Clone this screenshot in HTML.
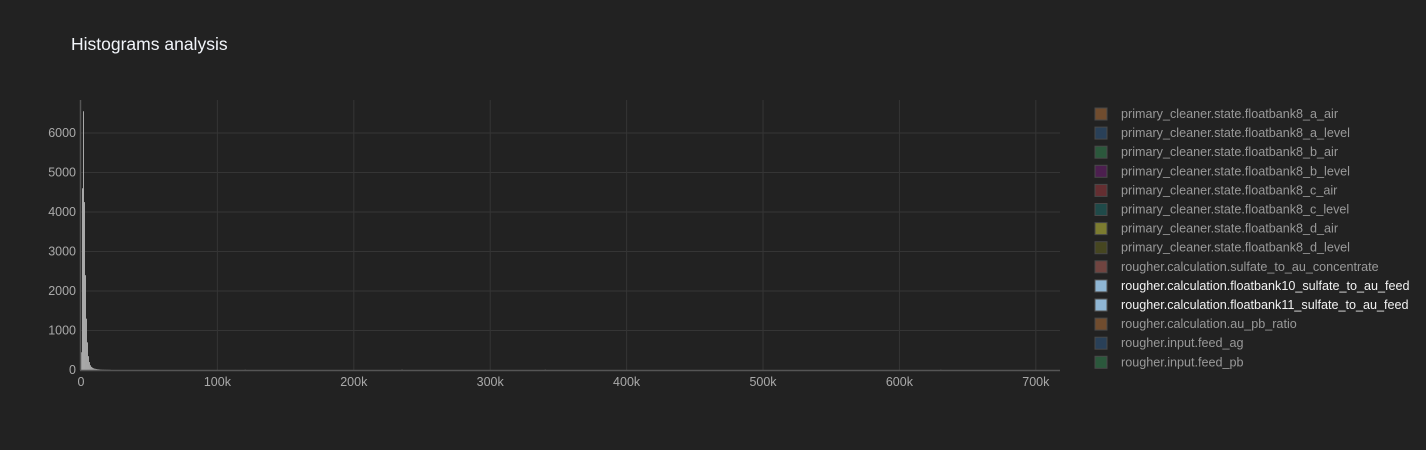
<!DOCTYPE html>
<html><head><meta charset="utf-8"><style>
html,body{margin:0;padding:0;background:#222;}
svg{display:block;font-family:"Liberation Sans",sans-serif;}
</style></head><body>
<svg id="chart" width="1426" height="450">
<rect width="1426" height="450" fill="#222"/>
<text x="71" y="50" fill="#f2f5fa" font-size="17.5">Histograms analysis</text>
<g id="grid"></g><g id="bars"></g><g id="axes"></g><g id="legend"></g>
</svg>
<script>
const yTicks=[0,1000,2000,3000,4000,5000,6000];
const xTicks=[0,100000,200000,300000,400000,500000,600000,700000];
const xTickLabels=["0","100k","200k","300k","400k","500k","600k","700k"];
const binWidth=730;
const binCounts=[450,4600,6550,4250,2400,1300,700,350,200,120,80,60,45,35,30,25,20,18,15,12,10,8,8,6,6,5,5,4,4,3];
const sparseBins=[120000,235000,340000,630000];
const sparseCounts=[5,8,6,4];
const legendNames=["primary_cleaner.state.floatbank8_a_air","primary_cleaner.state.floatbank8_a_level","primary_cleaner.state.floatbank8_b_air","primary_cleaner.state.floatbank8_b_level","primary_cleaner.state.floatbank8_c_air","primary_cleaner.state.floatbank8_c_level","primary_cleaner.state.floatbank8_d_air","primary_cleaner.state.floatbank8_d_level","rougher.calculation.sulfate_to_au_concentrate","rougher.calculation.floatbank10_sulfate_to_au_feed","rougher.calculation.floatbank11_sulfate_to_au_feed","rougher.calculation.au_pb_ratio","rougher.input.feed_ag","rougher.input.feed_pb"];
const legendColors=["#8a5a32","#2c4b6b","#2e6b45","#5a1f5f","#7a3237","#1e5856","#9a9a35","#525220","#8a504a","#8fb6d4","#8fb6d4","#8a5a32","#2c4b6b","#2e6b45"];
const legendActive=[0,0,0,0,0,0,0,0,0,1,1,0,0,0];

const NS="http://www.w3.org/2000/svg";
const L=81,R=1060,T=100,B=370;
const xMax=717000,yMax=6835;
const xs=v=>L+v/xMax*(R-L-1);
const ys=v=>B-v/yMax*(B-T);
function mk(tag,attrs,parent){const e=document.createElementNS(NS,tag);for(const k in attrs)e.setAttribute(k,attrs[k]);parent.appendChild(e);return e;}
const grid=document.getElementById('grid'),bars=document.getElementById('bars'),axes=document.getElementById('axes'),legend=document.getElementById('legend');
yTicks.forEach(v=>{
  if(v>0){const g=mk('line',{x1:L,x2:R,y1:ys(v),y2:ys(v),stroke:'#353535','stroke-width':1},grid);
  
  }
  const t=mk('text',{x:L-5,y:ys(v)+4,fill:'#aaa','font-size':12.5,'text-anchor':'end'},axes);t.textContent=v;
  
  
});
xTicks.forEach((v,i)=>{
  if(v>0){const g=mk('line',{x1:xs(v),x2:xs(v),y1:T,y2:B,stroke:'#353535','stroke-width':1},grid);
  
  }
  const t=mk('text',{x:xs(v),y:B+16,fill:'#aaa','font-size':12.5,'text-anchor':'middle'},axes);t.textContent=xTickLabels[i];
  
  
});
const zx=mk('line',{x1:L-1,x2:R,y1:B+0.5,y2:B+0.5,stroke:'#555','stroke-width':1.5},axes);


const zy=mk('line',{x1:L-0.5,x2:L-0.5,y1:T,y2:B,stroke:'#555','stroke-width':1.5},axes);


binCounts.forEach((c,i)=>{
  const x0=xs(i*binWidth),x1=xs((i+1)*binWidth);
  const b=mk('rect',{x:x0,y:ys(c),width:Math.max(x1-x0,0.8),height:B-ys(c),fill:'#aaa'},bars);
  
  
});
sparseBins.forEach((s,i)=>{
  const b=mk('rect',{x:xs(s),y:ys(sparseCounts[i]),width:1,height:B-ys(sparseCounts[i]),fill:'#aaa'},bars);
  
  
});
legendNames.forEach((n,i)=>{
  const y=114+i*19.1;
  const g=mk('g',{},legend);
  
  
  mk('rect',{x:1095,y:y-6,width:12,height:12,fill:legendColors[i],stroke:'#555','stroke-width':1,opacity:legendActive[i]?1:0.75},g);
  const t=mk('text',{x:1121,y:y+4,fill:legendActive[i]?'#f2f2f2':'#999','font-size':12.6},g);t.textContent=n;
});
</script>
</body></html>
